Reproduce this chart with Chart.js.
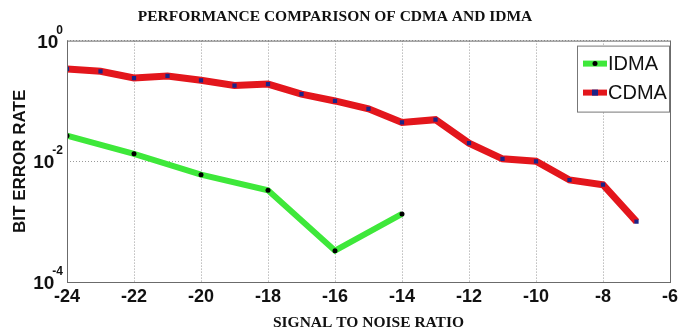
<!DOCTYPE html>
<html>
<head>
<meta charset="utf-8">
<script src="https://cdn.jsdelivr.net/npm/chart.js@4.4.1/dist/chart.umd.min.js"></script>
<style>
  html, body { margin: 0; padding: 0; background: #fff; }
  #wrap { width: 691px; height: 336px; }
</style>
</head>
<body>
<div id="wrap"><canvas id="berChart" width="691" height="336"></canvas></div>
<script>
// Signal to noise ratio (x) and bit error rate values
const cdmaSnr = [-24, -23, -22, -21, -20, -19, -18, -17, -16, -15, -14, -13, -12, -11, -10, -9, -8, -7];
const cdmaBer = [0.34, 0.31, 0.24, 0.26, 0.22, 0.18, 0.19, 0.13, 0.10, 0.074, 0.044, 0.049, 0.020, 0.011, 0.010, 0.0049, 0.0041, 0.0010];

const idmaSnr = [-24, -22, -20, -18, -16, -14];
const idmaBer = [0.0265, 0.0133, 0.006, 0.0033, 0.00033, 0.00134];

// y ticks: 10^exponent
const yTickValues = [1e-4, 1e-2, 1];
const yTickExponents = ['-4', '-2', '0'];

function toPoints(xs, ys) {
    return xs.map((x, i) => ({ x: x, y: ys[i] }));
}

// box around the plot area, like matlab's "box on"
const boxPlugin = {
    id: 'plotBox',
    afterDraw(chart) {
        const a = chart.chartArea;
        const ctx = chart.ctx;
        ctx.save();
        ctx.strokeStyle = '#6b6b6b';
        ctx.lineWidth = 1;
        ctx.strokeRect(a.left + 0.5, a.top + 0.5, a.right - a.left, a.bottom - a.top);
        ctx.restore();
    }
};

// y tick labels with a raised exponent (10^-2 style)
const powerLabels = {
    id: 'powerLabels',
    afterDraw(chart) {
        const scale = chart.scales.y;
        const ctx = chart.ctx;
        const right = scale.right - 4;
        ctx.save();
        ctx.fillStyle = '#111';
        ctx.textBaseline = 'alphabetic';
        yTickValues.forEach((v, i) => {
            const y = scale.getPixelForValue(v);
            ctx.font = 'bold 12px "Liberation Sans", Arial, sans-serif';
            const expW = ctx.measureText(yTickExponents[i]).width;
            ctx.textAlign = 'left';
            ctx.fillText(yTickExponents[i], right - expW, y - 7);
            ctx.font = 'bold 19px "Liberation Sans", Arial, sans-serif';
            ctx.textAlign = 'right';
            ctx.fillText('10', right - expW + 2, y + 7);
        });
        ctx.restore();
    }
};

// legend drawn inside the plot, top right corner
const insideLegend = {
    id: 'insideLegend',
    afterDraw(chart) {
        const a = chart.chartArea;
        const ctx = chart.ctx;
        const boxW = 92, boxH = 66;
        const bx = a.right - boxW - 1, by = a.top + 5;
        ctx.save();
        ctx.fillStyle = '#fff';
        ctx.fillRect(bx, by, boxW, boxH);
        ctx.strokeStyle = '#777';
        ctx.lineWidth = 1;
        ctx.strokeRect(bx + 0.5, by + 0.5, boxW, boxH);
        ctx.font = '20px "Liberation Sans", Arial, sans-serif';
        ctx.textBaseline = 'middle';
        chart.data.datasets.forEach((ds, i) => {
            const y = by + 18 + i * 29;
            ctx.strokeStyle = ds.borderColor;
            ctx.lineWidth = 6;
            ctx.beginPath();
            ctx.moveTo(bx + 6, y);
            ctx.lineTo(bx + 30, y);
            ctx.stroke();
            ctx.fillStyle = ds.pointBackgroundColor;
            if (ds.pointStyle === 'rect') {
                ctx.fillRect(bx + 15, y - 3, 6, 6);
            } else {
                ctx.beginPath();
                ctx.arc(bx + 18, y, 2.5, 0, Math.PI * 2);
                ctx.fill();
            }
            ctx.fillStyle = '#111';
            ctx.fillText(ds.label, bx + 31, y + 1);
        });
        ctx.restore();
    }
};

const ctx = document.getElementById('berChart');

new Chart(ctx, {
    type: 'line',
    data: {
        datasets: [{
            label: 'IDMA',
            data: toPoints(idmaSnr, idmaBer),
            borderColor: '#3ee83a',
            borderWidth: 6,
            pointStyle: 'circle',
            pointRadius: 2.5,
            pointBackgroundColor: '#000',
            pointBorderWidth: 0,
            tension: 0
        }, {
            label: 'CDMA',
            data: toPoints(cdmaSnr, cdmaBer),
            borderColor: '#e3161c',
            borderWidth: 7,
            pointStyle: 'rect',
            pointRadius: 3,
            pointBackgroundColor: '#1c2487',
            pointBorderWidth: 0,
            tension: 0
        }]
    },
    options: {
        responsive: false,
        animation: false,
        layout: {
            padding: { left: 0, right: 21, top: 0, bottom: 0 }
        },
        plugins: {
            legend: { display: false },
            tooltip: { enabled: false },
            title: {
                display: true,
                text: 'PERFORMANCE COMPARISON OF CDMA AND IDMA',
                color: '#111',
                font: { family: '"Liberation Serif", "Times New Roman", serif', size: 15.5, weight: 'bold' },
                padding: { top: 8, bottom: 14 }
            }
        },
        scales: {
            x: {
                type: 'linear',
                min: -24,
                max: -6,
                afterFit: (scale) => { scale.height = 54; },
                ticks: {
                    stepSize: 2,
                    padding: 4,
                    color: '#111',
                    font: { family: '"Liberation Sans", Arial, sans-serif', size: 18, weight: 'bold' }
                },
                grid: {
                    color: '#9a9a9a',
                    drawTicks: false
                },
                border: { display: false, dash: [1, 2] },
                title: {
                    display: true,
                    text: 'SIGNAL TO NOISE RATIO',
                    color: '#111',
                    font: { family: '"Liberation Serif", "Times New Roman", serif', size: 15.5, weight: 'bold' },
                    padding: { top: 0, bottom: 4 }
                }
            },
            y: {
                type: 'logarithmic',
                min: 1e-4,
                max: 1,
                afterFit: (scale) => { scale.width = 67; },
                afterBuildTicks: (scale) => {
                    scale.ticks = yTickValues.map(v => ({ value: v }));
                },
                ticks: { display: false },
                grid: {
                    color: '#9a9a9a',
                    drawTicks: false
                },
                border: { display: false, dash: [1, 2] },
                title: {
                    display: true,
                    text: 'BIT ERROR RATE',
                    color: '#111',
                    font: { family: '"Liberation Sans", Arial, sans-serif', size: 17, weight: 'bold' },
                    padding: { top: 10, bottom: 0 }
                }
            }
        }
    },
    plugins: [boxPlugin, powerLabels, insideLegend]
});
</script>
</body>
</html>
